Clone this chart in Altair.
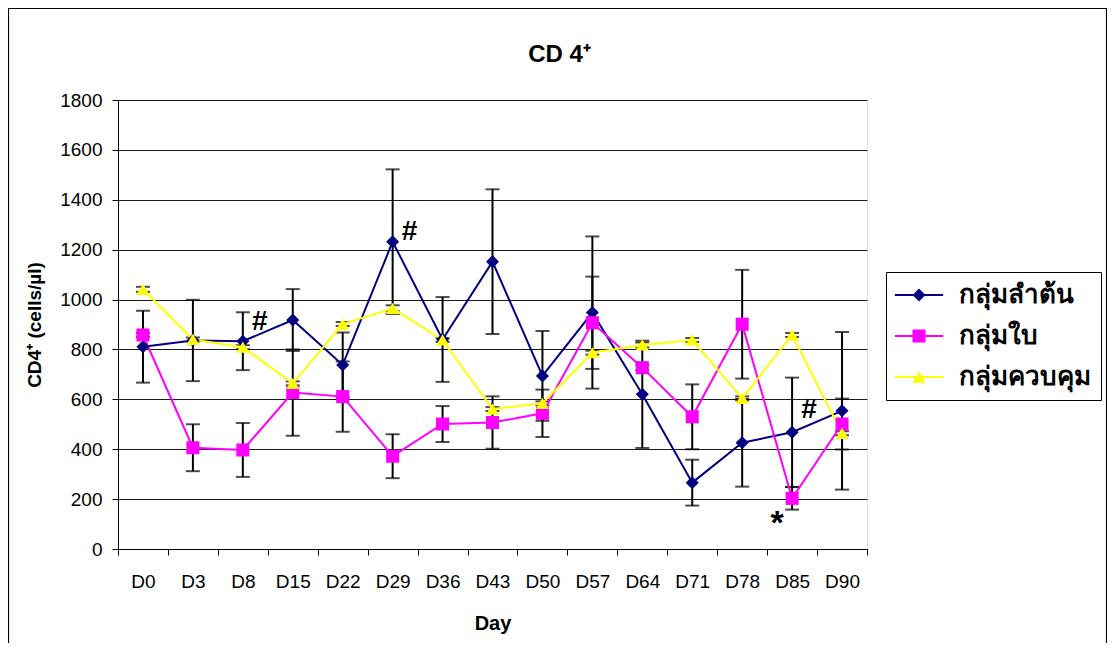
import altair as alt
import pandas as pd

days = ["D0", "D3", "D8", "D15", "D22", "D29", "D36", "D43", "D50", "D57", "D64", "D71", "D78", "D85", "D90"]
groups = ["กลุ่มลำต้น", "กลุ่มใบ", "กลุ่มควบคุม"]
colors = ["#000080", "#FF00FF", "#FFFF00"]
shapes = ["diamond", "square", "triangle-up"]

stem_mean = [811, 836, 833, 918, 738, 1232, 840, 1152, 694, 948, 620, 266, 426, 468, 554]
stem_sd = [144, 163, 116, 124, 130, 290, 170, 290, 180, 305, 215, 92, 176, 219, 316]
leaf_mean = [858, 406, 397, 627, 611, 372, 501, 507, 544, 907, 727, 530, 901, 203, 501]
leaf_sd = [8, 94, 108, 173, 141, 88, 72, 105, 95, 185, 10, 130, 218, 45, 102]
ctrl_mean = [1041, 840, 809, 664, 902, 965, 838, 561, 584, 787, 818, 838, 604, 858, 464]
ctrl_sd = [10, 8, 8, 8, 8, 12, 8, 8, 8, 8, 10, 8, 8, 8, 8]

hash_days = ["D8", "D29", "D85"]
hash_values = [910, 1271, 557]
star_days = ["D85"]
star_values = [100]

rows = []
for g, means, sds in zip(groups, [stem_mean, leaf_mean, ctrl_mean], [stem_sd, leaf_sd, ctrl_sd]):
    for d, m, s in zip(days, means, sds):
        rows.append({"day": d, "group": g, "group_l": g, "value": m, "lo": m - s, "hi": m + s})
df = pd.DataFrame(rows)
hash_df = pd.DataFrame({"day": hash_days, "value": hash_values, "txt": ["#"] * len(hash_days)})
star_df = pd.DataFrame({"day": star_days, "value": star_values, "txt": ["*"] * len(star_days)})

FONT = "Liberation Sans"

x_axis = alt.Axis(title="Day", tickBand="extent", labelAngle=0, labelFont=FONT, labelFontSize=19,
                  labelColor="black", labelPadding=17, tickSize=6, tickColor="black", domainColor="black",
                  titleFont=FONT, titleFontSize=20, titleFontWeight="bold", titleColor="black",
                  titlePadding=22, grid=False)
y_axis = alt.Axis(title="CD4⁺ (cells/µl)", values=list(range(0, 1801, 200)), format="d", labelFont=FONT,
                  labelFontSize=19, labelColor="black", labelPadding=10, tickSize=6, tickColor="black",
                  domainColor="black", titleFont=FONT, titleFontSize=19, titleFontWeight="bold",
                  titleColor="black", titlePadding=15, grid=True, gridColor="#1a1a1a", gridWidth=1)

x_scale = alt.Scale(type="band", domain=days, paddingInner=0, paddingOuter=0)
y_scale = alt.Scale(domain=[0, 1800], nice=False)


def X():
    return alt.X("day:N", scale=x_scale, bandPosition=0.5, axis=x_axis)


def Y(field):
    return alt.Y(field, scale=y_scale, axis=y_axis)


base = alt.Chart(df)

frame = alt.Chart(pd.DataFrame({"a": [0]})).mark_rect(fill=None, stroke="black", strokeWidth=1.2).encode(
    x=alt.value(-109.5), x2=alt.value(988.5), y=alt.value(-91.5), y2=alt.value(700)
)

rules = base.mark_rule(color="black", strokeWidth=2).encode(x=X(), y=Y("lo:Q"), y2="hi:Q")
caps_lo = base.mark_tick(color="black", size=14, thickness=2, orient="horizontal").encode(x=X(), y=Y("lo:Q"))
caps_hi = base.mark_tick(color="black", size=14, thickness=2, orient="horizontal").encode(x=X(), y=Y("hi:Q"))

LEG_X = 768
LEG_Y = 172
common_leg = dict(title=None, orient="none", legendX=LEG_X, legendY=LEG_Y, symbolSize=170,
                  symbolOffset=10, labelOffset=27, labelFontSize=26, labelFont=FONT,
                  labelFontWeight="bold", rowPadding=15, padding=10)

lines = base.mark_line(strokeWidth=2).encode(
    x=X(), y=Y("value:Q"),
    stroke=alt.Stroke("group_l:N", sort=groups, scale=alt.Scale(range=colors),
                      legend=alt.Legend(symbolType="M-3.7,0H3.7", symbolStrokeWidth=2,
                                        labelOpacity=0, **common_leg)),
)

pt_legend = alt.Legend(symbolStrokeWidth=0, labelColor="black", strokeColor="black", **common_leg)
points = base.mark_point(filled=True, size=170, opacity=1).encode(
    x=X(), y=Y("value:Q"),
    fill=alt.Fill("group:N", scale=alt.Scale(domain=groups, range=colors), legend=pt_legend),
    shape=alt.Shape("group:N", scale=alt.Scale(domain=groups, range=shapes), legend=pt_legend),
)

hashes = alt.Chart(hash_df).mark_text(font=FONT, fontSize=28, fontWeight="bold", color="black",
                                      dx=17, baseline="middle").encode(x=X(), y=Y("value:Q"), text="txt:N")
stars = alt.Chart(star_df).mark_text(font=FONT, fontSize=34, fontWeight="bold", color="black",
                                     dx=-15, baseline="middle").encode(x=X(), y=Y("value:Q"), text="txt:N")

chart = alt.layer(frame, rules, caps_lo, caps_hi, lines, points, hashes, stars).properties(
    width=749, height=449,
    title=alt.TitleParams("CD 4⁺", font=FONT, fontSize=24, fontWeight="bold", color="black",
                          anchor="middle", frame="group", baseline="bottom", dx=67, offset=-83),
    autosize=alt.AutoSizeParams(type="none"),
    padding={"left": 110, "top": 92, "right": 240, "bottom": 94},
).configure_view(stroke="#808080", strokeWidth=1.5).configure(background="white")

chart.save("out.html", embed_options={"renderer": "svg", "actions": False})
